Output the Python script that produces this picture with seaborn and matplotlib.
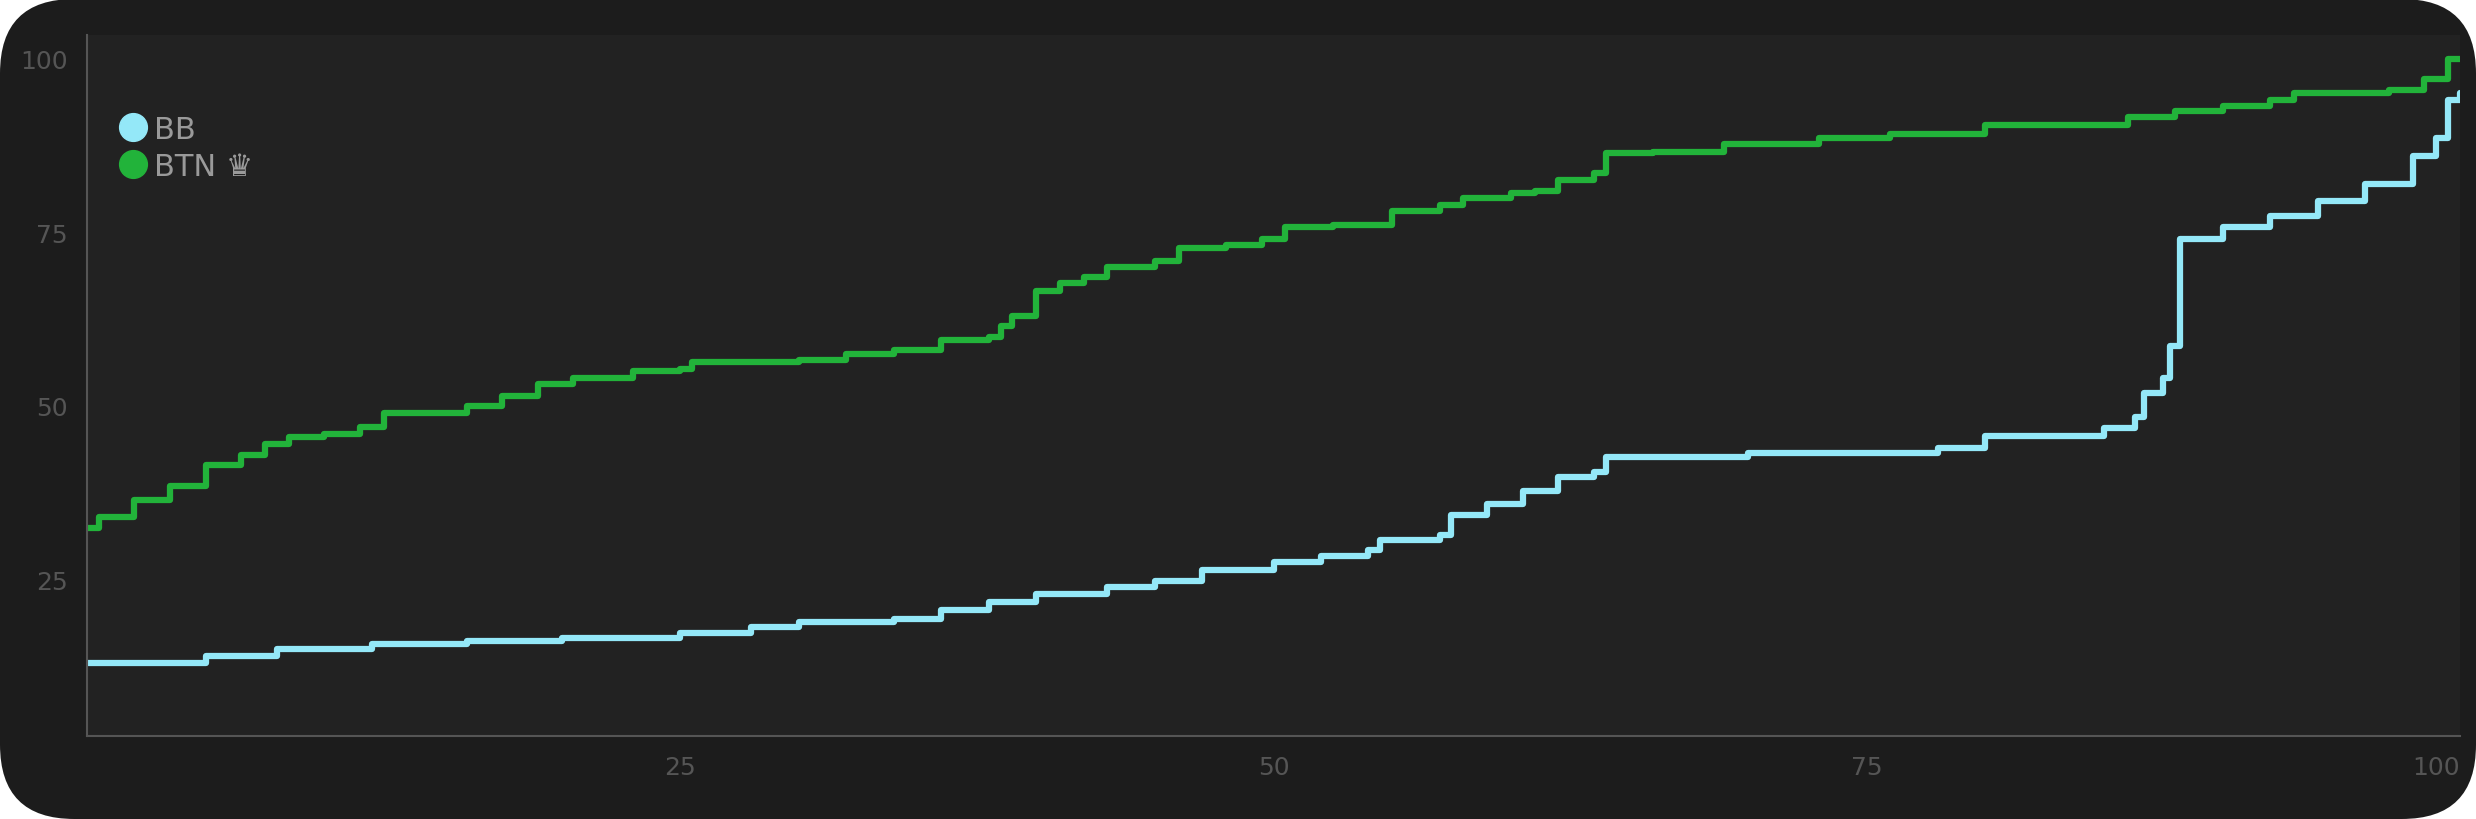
import numpy as np
import pandas as pd
import matplotlib
matplotlib.use("Agg")
import matplotlib.pyplot as plt
from matplotlib.patches import FancyBboxPatch
from matplotlib.lines import Line2D
import seaborn as sns

# step breakpoints (x = percentile, y = equity)
btn_x = [0, 0.5, 2, 3.5, 5, 6.5, 7.5, 8.5, 10, 11.5, 12.5, 16, 17.5, 19, 20.5, 23, 25, 25.5, 30, 32,
         34, 36, 38, 38.5, 39, 40, 41, 42, 43, 45, 46, 48, 49.5, 50.5, 52.5, 55, 57, 58, 60, 61,
         62, 63.5, 64, 66, 69, 73, 76, 80, 86, 88, 90, 92, 93, 97, 98.5, 99.5, 100]
btn_y = [32.5, 34, 36.5, 38.5, 41.5, 43, 44.5, 45.5, 46, 47, 49, 50, 51.5, 53.2, 54, 55, 55.3, 56.4, 56.6, 57.5,
         58, 59.5, 60, 61.5, 63, 66.5, 67.7, 68.5, 70, 70.8, 72.7, 73.2, 74, 75.7, 76, 78, 79, 80, 80.7, 81,
         82.5, 83.5, 86.4, 86.6, 87.7, 88.6, 89.2, 90.5, 91.6, 92.5, 93.2, 94, 95, 95.5, 97, 100, 100]
bb_x = [0, 5, 8, 12, 16, 20, 25, 28, 30, 34, 36, 38, 40, 43, 45, 47, 50, 52, 54, 54.5,
        57, 57.5, 59, 60.5, 62, 63.5, 64, 70, 78, 80, 85, 86.3, 86.7, 87.5, 87.8, 88.2, 90, 92, 94, 96,
        98, 99, 99.5, 100]
bb_y = [13, 14, 15, 15.7, 16.2, 16.6, 17.3, 18.2, 18.9, 19.3, 20.7, 21.8, 23, 24, 24.8, 26.4, 27.5, 28.4, 29.3, 30.7,
        31.4, 34.3, 35.9, 37.7, 39.8, 40.5, 42.7, 43.2, 44, 45.7, 46.8, 48.4, 51.8, 54, 58.6, 74, 75.7, 77.3, 79.5, 82,
        86, 88.6, 94, 95]

GREEN = "#22b33a"
CYAN = "#94e8f8"

df = pd.concat([
    pd.DataFrame({"x": bb_x, "y": bb_y, "pos": "BB"}),
    pd.DataFrame({"x": btn_x, "y": btn_y, "pos": "BTN"}),
])

sns.set_theme(style="dark")
fig = plt.figure(figsize=(24.76, 8.2), dpi=100)
fig.patch.set_facecolor("white")
fig.patches.append(FancyBboxPatch((0, 0), 1, 1, boxstyle="round,pad=0,rounding_size=0.03",
                                  transform=fig.transFigure, facecolor="#1c1c1c",
                                  edgecolor="none", mutation_aspect=2476 / 820, zorder=-10))
ax = fig.add_axes([87 / 2476, 1 - 737 / 820, (2460 - 87) / 2476, (737 - 36) / 820])
ax.set_facecolor("#222222")

sns.lineplot(data=df, x="x", y="y", hue="pos", palette={"BB": CYAN, "BTN": GREEN},
             drawstyle="steps-post", linewidth=4.5, ax=ax, legend=False, estimator=None)

ax.set_xlim(0, 100)
ax.set_ylim(2.5, 103.4)
ax.set_xlabel("")
ax.set_ylabel("")
ax.grid(False)
ax.set_xticks([25, 50, 75, 100])
ax.set_yticks([25, 50, 75, 100])
ax.tick_params(colors="#555555", labelsize=18, length=0, pad=14)
ax.get_xticklabels()[-1].set_horizontalalignment("right")
for s in ["top", "right"]:
    ax.spines[s].set_visible(False)
for s in ["left", "bottom"]:
    ax.spines[s].set_color("#555555")
    ax.spines[s].set_linewidth(1.5)

handles = [Line2D([], [], marker="o", ls="", color=CYAN, markersize=20),
           Line2D([], [], marker="o", ls="", color=GREEN, markersize=20)]
leg = ax.legend(handles, ["BB", "BTN \u265b"], loc="upper left", bbox_to_anchor=(0.0, 0.925),
                frameon=False, fontsize=22, handletextpad=0.1, labelspacing=0.25,
                handlelength=1.2, labelcolor="#9a9a9a")

fig.savefig("out.png", dpi=100, facecolor=fig.get_facecolor())
